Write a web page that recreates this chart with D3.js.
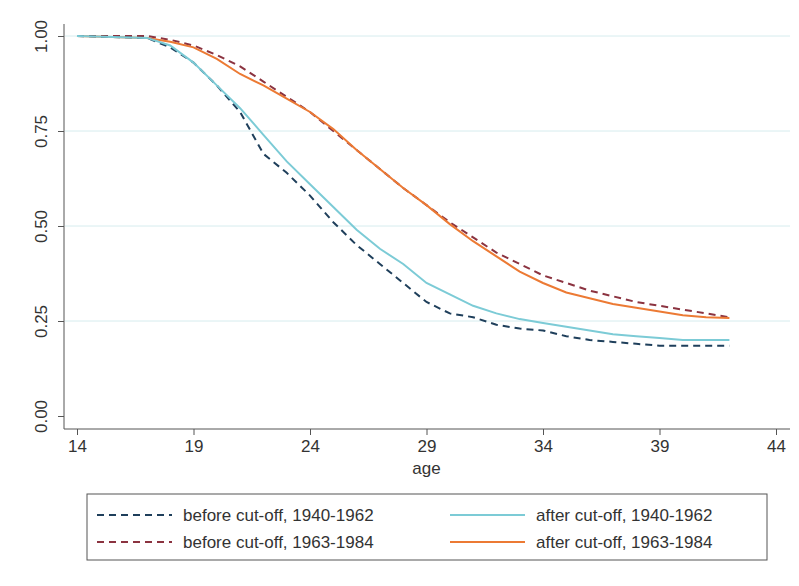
<!DOCTYPE html>
<html>
<head>
<meta charset="utf-8">
<script src="https://d3js.org/d3.v7.min.js"></script>
<style>
  body { margin: 0; background: #fff; font-family: "Liberation Sans", Arial, sans-serif; }
</style>
</head>
<body>
<svg width="799" height="586"></svg>
<script>
  var ages = [14,17,18,19,20,21,22,23,24,25,26,27,28,29,30,31,32,33,34,35,36,37,38,39,40,41,42];
  var beforeOld = [1,0.995,0.97,0.93,0.87,0.80,0.69,0.64,0.58,0.51,0.45,0.40,0.35,0.30,0.27,0.26,0.24,0.23,0.225,0.21,0.20,0.195,0.19,0.185,0.185,0.185,0.185];
  var afterOld  = [1,0.995,0.975,0.93,0.87,0.81,0.74,0.67,0.61,0.55,0.49,0.44,0.40,0.35,0.32,0.29,0.27,0.255,0.245,0.235,0.225,0.215,0.21,0.205,0.20,0.20,0.20];
  var beforeNew = [1,1,0.99,0.975,0.95,0.92,0.88,0.84,0.80,0.75,0.70,0.65,0.60,0.555,0.51,0.47,0.43,0.40,0.37,0.35,0.33,0.315,0.30,0.29,0.28,0.27,0.26];
  var afterNew  = [1,0.995,0.985,0.97,0.94,0.90,0.87,0.835,0.80,0.755,0.70,0.65,0.60,0.555,0.505,0.46,0.42,0.38,0.35,0.325,0.31,0.295,0.285,0.275,0.265,0.26,0.258];
  var xTicks = [14,19,24,29,34,39,44];
  var yTicks = [0,0.25,0.5,0.75,1];

  var series = [
    {name: "before cut-off, 1940-1962", values: beforeOld, color: "#1f3f5b", dash: "7,5"},
    {name: "after cut-off, 1940-1962", values: afterOld, color: "#7ccbd6", dash: null},
    {name: "before cut-off, 1963-1984", values: beforeNew, color: "#8b3340", dash: "7,5"},
    {name: "after cut-off, 1963-1984", values: afterNew, color: "#ec7a34", dash: null}
  ];

  var svg = d3.select("svg");
  var x = d3.scaleLinear().domain([14, 44]).range([77, 776]);
  var y = d3.scaleLinear().domain([0, 1]).range([416, 36]);

  // grid
  svg.append("g").selectAll("line").data(yTicks.slice(1)).join("line")
    .attr("x1", 65).attr("x2", 790)
    .attr("y1", function(d) { return y(d); }).attr("y2", function(d) { return y(d); })
    .attr("stroke", "#d6ecee").attr("stroke-width", 1);

  var xa = svg.append("g").attr("transform", "translate(0,429)")
    .call(d3.axisBottom(x).tickValues(xTicks).tickSize(6).tickPadding(5));
  xa.select(".domain").attr("d", "M64,0H790").attr("stroke", "#555");
  var ya = svg.append("g").attr("transform", "translate(64,0)")
    .call(d3.axisLeft(y).tickValues(yTicks).tickFormat(d3.format(".2f")).tickSize(6).tickPadding(5));
  ya.select(".domain").attr("d", "M0,24V429").attr("stroke", "#555");
  svg.selectAll(".tick line").attr("stroke", "#555");
  svg.selectAll(".tick text").attr("fill", "#333").style("font-size", "17px").style("font-family", "Liberation Sans, Arial, sans-serif");
  ya.selectAll(".tick text").attr("text-anchor", "middle")
    .attr("transform", function() { return "rotate(-90," + d3.select(this).attr("x") + ",0) translate(0,-11)"; });

  svg.append("text").attr("x", x(29)).attr("y", 474).attr("text-anchor", "middle")
    .attr("fill", "#333").style("font-size", "17px").text("age");

  var line = d3.line().x(function(d, i) { return x(ages[i]); }).y(function(d) { return y(d); });
  [2, 3, 0, 1].forEach(function(i) {
    var s = series[i];
    svg.append("path").attr("d", line(s.values)).attr("fill", "none")
      .attr("stroke", s.color).attr("stroke-width", 2)
      .attr("stroke-dasharray", s.dash);
  });

  // legend
  svg.append("rect").attr("x", 87).attr("y", 494).attr("width", 680).attr("height", 66)
    .attr("fill", "#fff").attr("stroke", "#555");
  series.forEach(function(s, i) {
    var col = i % 2, row = Math.floor(i / 2);
    var lx = 97 + col * 353, ly = 515 + row * 27;
    svg.append("line").attr("x1", lx).attr("x2", lx + 75).attr("y1", ly).attr("y2", ly)
      .attr("stroke", s.color).attr("stroke-width", 2).attr("stroke-dasharray", s.dash);
    svg.append("text").attr("x", lx + 86).attr("y", ly + 6).attr("fill", "#333")
      .style("font-size", "17px").text(s.name);
  });
</script>
</body>
</html>
